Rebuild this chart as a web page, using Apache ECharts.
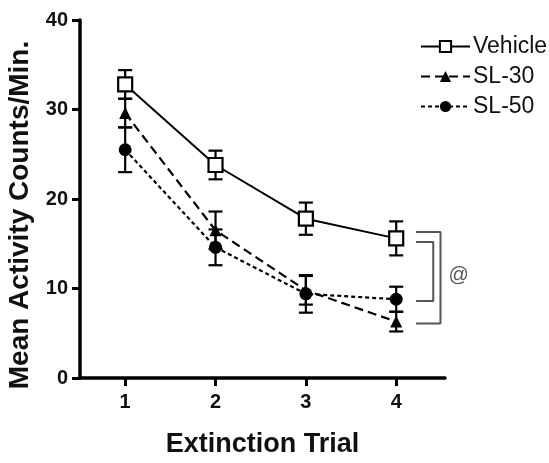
<!DOCTYPE html>
<html><head><meta charset="utf-8">
<script src="https://cdn.jsdelivr.net/npm/echarts@6/dist/echarts.min.js"></script>
<style>html,body{margin:0;padding:0;background:#fff}#c{width:549px;height:463px}</style>
</head><body><div id="c"></div>
<script>
const trials = [1, 2, 3, 4];
const yTicks = [0, 10, 20, 30, 40];
const vehicle = [32.8, 23.8, 17.8, 15.6];
const vehicleErr = [1.6, 1.6, 1.8, 1.9];
const sl30 = [29.6, 16.5, 9.8, 6.3];
const sl30Err = [1.6, 2.1, 1.6, 1.1];
const sl50 = [25.5, 14.6, 9.4, 8.8];
const sl50Err = [2.5, 2.0, 2.1, 1.4];
const sigInner = [15.2, 8.6];
const sigOuter = [16.3, 6.1];
const sigLabel = '@';

const chart = echarts.init(document.getElementById('c'));
const pts = v => trials.map((t, i) => [t, v[i]]);
const errData = (v, e) => trials.map((t, i) => [t, v[i] - e[i], v[i] + e[i]]);
function errSeries(v, e) {
  return {
    type: 'custom', z: 1, silent: true,
    data: errData(v, e),
    encode: { x: 0, y: [1, 2] },
    renderItem: function (params, api) {
      const x = api.value(0);
      const lo = api.coord([x, api.value(1)]);
      const hi = api.coord([x, api.value(2)]);
      const w = 7;
      const st = { stroke: '#000', lineWidth: 2.2 };
      return {
        type: 'group', children: [
          { type: 'line', shape: { x1: hi[0], y1: hi[1], x2: lo[0], y2: lo[1] }, style: st },
          { type: 'line', shape: { x1: hi[0] - w, y1: hi[1], x2: hi[0] + w, y2: hi[1] }, style: st },
          { type: 'line', shape: { x1: lo[0] - w, y1: lo[1], x2: lo[0] + w, y2: lo[1] }, style: st }
        ]
      };
    }
  };
}
const font = 'Liberation Sans';
chart.setOption({
  animation: false,
  backgroundColor: '#fff',
  grid: { left: 80, right: 104, top: 20, bottom: 80 },
  legend: {
    orient: 'vertical', left: 415, top: 30, itemWidth: 49, itemHeight: 14, itemGap: 7,
    textStyle: { fontSize: 23, fontFamily: font, color: '#111', padding: [0, 0, 0, -2] },
    data: ['Vehicle', 'SL-30', 'SL-50']
  },
  xAxis: {
    type: 'value', min: 0.5, max: 4.54,
    name: 'Extinction Trial', nameLocation: 'middle', nameGap: 53,
    nameTextStyle: { fontSize: 27, fontWeight: 'bold', fontFamily: font, color: '#111' },
    axisLine: { lineStyle: { color: '#000', width: 3.5 } },
    axisTick: { show: true, customValues: trials, length: 8, lineStyle: { color: '#000', width: 3 } },
    axisLabel: { customValues: trials, margin: 14, fontSize: 20, fontWeight: 'bold', fontFamily: font, color: '#111' },
    splitLine: { show: false }
  },
  yAxis: {
    type: 'value', min: 0, max: 40, interval: 10,
    axisLine: { show: true, lineStyle: { color: '#000', width: 3.5 } },
    axisTick: { show: true, length: 8, lineStyle: { color: '#000', width: 3 } },
    axisLabel: { margin: 12, fontSize: 20, fontWeight: 'bold', fontFamily: font, color: '#111' },
    splitLine: { show: false }
  },
  series: [
    errSeries(vehicle, vehicleErr),
    errSeries(sl30, sl30Err),
    errSeries(sl50, sl50Err),
    {
      name: 'Vehicle', type: 'line', z: 3, data: pts(vehicle),
      symbol: 'rect', symbolSize: 14,
      itemStyle: { color: '#fff', borderColor: '#000', borderWidth: 2.2 },
      lineStyle: { color: '#000', width: 2 }
    },
    {
      name: 'SL-30', type: 'line', z: 3, data: pts(sl30),
      symbol: 'triangle', symbolSize: 12,
      itemStyle: { color: '#000' },
      lineStyle: { color: '#000', width: 2.2, type: [9, 5] }
    },
    {
      name: 'SL-50', type: 'line', z: 3, data: pts(sl50),
      symbol: 'circle', symbolSize: 13,
      itemStyle: { color: '#000' },
      lineStyle: { color: '#000', width: 2.2, type: [4, 3] }
    },
    {
      type: 'line', silent: true, symbol: 'none', z: 2,
      data: [[4.22, sigInner[0]], [4.41, sigInner[0]], [4.41, sigInner[1]], [4.22, sigInner[1]]],
      lineStyle: { color: '#555', width: 2 }
    },
    {
      type: 'line', silent: true, symbol: 'none', z: 2,
      data: [[4.22, sigOuter[0]], [4.49, sigOuter[0]], [4.49, sigOuter[1]], [4.22, sigOuter[1]]],
      lineStyle: { color: '#555', width: 2 }
    }
  ]
});
const at = chart.convertToPixel({ xAxisIndex: 0, yAxisIndex: 0 }, [4.49, (sigOuter[0] + sigOuter[1]) / 2]);
chart.setOption({
  graphic: [
    {
      type: 'text', x: 20, y: 215, rotation: Math.PI / 2,
      style: { text: 'Mean Activity Counts/Min.', font: 'bold 28px "Liberation Sans"', fill: '#111', align: 'center', verticalAlign: 'middle' }
    },
    {
      type: 'text', x: at[0] + 8, y: at[1] - 2,
      style: { text: sigLabel, font: '20px "Liberation Sans"', fill: '#555', align: 'left', verticalAlign: 'middle' }
    }
  ]
});
</script></body></html>
